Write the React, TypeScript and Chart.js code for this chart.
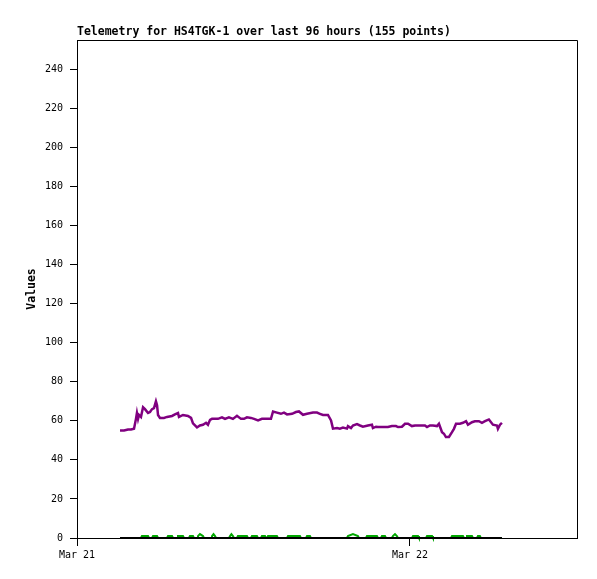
import React, { useEffect, useRef } from 'react';
import { Chart, registerables } from 'chart.js';

Chart.register(...registerables);

const TITLE = 'Telemetry for HS4TGK-1 over last 96 hours (155 points)';
const Y_TITLE = 'Values';
const X_TICK_HOURS = [0, 24];
const X_TICK_LABELS = ['Mar 21', 'Mar 22'];
const X_MAX_HOURS = 36.04;
const Y_MAX = 255;
const Y_TICKS = [0, 20, 40, 60, 80, 100, 120, 140, 160, 180, 200, 220, 240];

// hours since Mar 21 00:00
const purpleHours = [
  3.10, 3.39, 3.68, 3.89, 4.11, 4.25, 4.32, 4.40, 4.47, 4.61, 4.76, 4.90, 5.12, 5.26, 5.41, 5.55,
  5.69, 5.77, 5.84, 5.98, 6.27, 6.49, 6.85, 7.06, 7.28, 7.35, 7.64, 8.00, 8.22, 8.36, 8.65, 8.86,
  9.08, 9.30, 9.44, 9.59, 9.73, 9.95, 10.16, 10.45, 10.67, 10.95, 11.24, 11.53, 11.82, 12.04, 12.25,
  12.54, 12.76, 13.05, 13.33, 13.69, 13.98, 14.13, 14.41, 14.70, 14.92, 15.14, 15.50, 15.78, 16.00,
  16.29, 16.58, 17.01, 17.30, 17.51, 17.73, 18.09, 18.31, 18.45, 18.74, 18.95, 19.17, 19.46, 19.53,
  19.75, 19.89, 20.18, 20.40, 20.61, 20.97, 21.26, 21.33, 21.55, 21.69, 22.05, 22.41, 22.70, 22.99,
  23.14, 23.42, 23.57, 23.64, 23.86, 24.14, 24.36, 24.72, 25.08, 25.23, 25.44, 25.66, 25.95, 26.09,
  26.31, 26.45, 26.59, 26.81, 27.03, 27.17, 27.32, 27.60, 27.82, 28.04, 28.18, 28.47, 28.68, 28.97,
  29.19, 29.41, 29.69, 29.98, 30.27, 30.34, 30.49, 30.63,
];
const purpleValues = [
  55.0, 55.0, 55.5, 55.6, 56.0, 61.0, 64.0, 61.0, 63.0, 62.0, 67.0, 66.0, 64.0, 64.5, 66.0, 66.5,
  70.0, 68.0, 63.0, 61.5, 61.5, 62.0, 62.5, 63.3, 64.0, 62.0, 63.0, 62.5, 61.5, 58.7, 56.6, 57.6,
  58.0, 59.0, 58.0, 60.5, 61.0, 61.0, 61.0, 61.8, 61.0, 61.8, 61.0, 62.6, 61.0, 61.0, 61.8,
  61.5, 61.0, 60.2, 61.0, 61.0, 61.0, 64.8, 64.2, 63.6, 64.2, 63.3, 63.6, 64.5, 64.8,
  63.1, 63.6, 64.2, 64.2, 63.6, 63.0, 63.0, 60.2, 56.0, 56.3, 56.0, 56.5, 56.0, 57.3,
  56.3, 57.6, 58.3, 57.6, 57.0, 57.6, 58.0, 56.3, 57.0, 56.8, 56.8, 56.8, 57.3, 57.3,
  56.8, 57.0, 58.0, 58.5, 58.5, 57.3, 57.6, 57.6, 57.6, 56.8, 57.6, 57.6, 57.3, 58.5,
  54.2, 53.4, 51.7, 51.7, 54.2, 55.9, 58.5, 58.5, 59.0, 59.8, 58.0, 59.3, 59.8, 59.8,
  59.0, 59.8, 60.7, 58.0, 57.6, 55.9, 58.0, 59.0,
];

const greenHours = [
  3.10,
  4.61, 4.68, 5.12, 5.19,
  5.41, 5.48, 5.77, 5.84,
  6.49, 6.56, 6.85, 6.92,
  7.21, 7.28, 7.64, 7.71,
  8.07, 8.14, 8.36, 8.43,
  8.65, 8.72, 8.86, 9.08, 9.15,
  9.66, 9.73, 9.84, 9.95, 10.02,
  10.96, 11.03, 11.13, 11.24, 11.31,
  11.53, 11.60, 12.25, 12.32,
  12.54, 12.61, 12.97, 13.04,
  13.26, 13.33, 13.55, 13.62,
  13.70, 13.77, 14.41, 14.48,
  15.14, 15.21, 16.07, 16.14,
  16.51, 16.58, 16.79, 16.86,
  19.46, 19.53, 19.89, 20.25, 20.32,
  20.83, 20.90, 21.62, 21.69,
  21.91, 21.98, 22.20, 22.27,
  22.70, 22.77, 22.92, 23.06, 23.13,
  24.15, 24.22, 24.58, 24.65,
  25.16, 25.23, 25.59, 25.66,
  26.96, 27.03, 27.82, 27.89,
  28.04, 28.11, 28.47, 28.54,
  28.83, 28.90, 29.04, 29.11,
  30.63,
];
const greenValues = [
  0,
  0, 1, 1, 0,
  0, 1, 1, 0,
  0, 1, 1, 0,
  0, 1, 1, 0,
  0, 1, 1, 0,
  0, 1, 2, 1, 0,
  0, 1, 2, 1, 0,
  0, 1, 2, 1, 0,
  0, 1, 1, 0,
  0, 1, 1, 0,
  0, 1, 1, 0,
  0, 1, 1, 0,
  0, 1, 1, 0,
  0, 1, 1, 0,
  0, 1, 2, 1, 0,
  0, 1, 1, 0,
  0, 1, 1, 0,
  0, 1, 2, 1, 0,
  0, 1, 1, 0,
  0, 1, 1, 0,
  0, 1, 1, 0,
  0, 1, 1, 0,
  0, 1, 1, 0,
  0,
];

const blackHours = [3.10, 30.63];
const blackValues = [0, 0];

const toPoints = (xs: number[], ys: number[]) => xs.map((x, i) => ({ x, y: ys[i] }));

const MONO = '"DejaVu Sans Mono", "Liberation Mono", monospace';

const framePlugin = {
  id: 'frameAndTitles',
  afterDraw(chart: any) {
    const { ctx, chartArea } = chart;
    ctx.save();
    ctx.strokeStyle = '#000';
    ctx.lineWidth = 1;
    ctx.beginPath();
    ctx.moveTo(chartArea.left, Math.round(chartArea.top) + 0.5);
    ctx.lineTo(chartArea.right + 0.5, Math.round(chartArea.top) + 0.5);
    ctx.lineTo(Math.round(chartArea.right) + 0.5, chartArea.bottom);
    ctx.stroke();

    ctx.fillStyle = '#000';
    ctx.font = `bold 11.5px ${MONO}`;
    ctx.textAlign = 'left';
    ctx.textBaseline = 'alphabetic';
    ctx.fillText(TITLE, chartArea.left, chartArea.top - 5);

    ctx.translate(32, (chartArea.top + chartArea.bottom) / 2);
    ctx.rotate(-Math.PI / 2);
    ctx.textAlign = 'center';
    ctx.textBaseline = 'middle';
    ctx.fillText(Y_TITLE, 0, 0);
    ctx.restore();
  },
};

export default function App() {
  const ref = useRef<HTMLCanvasElement | null>(null);

  useEffect(() => {
    if (!ref.current) return;
    const chart = new Chart(ref.current, {
      type: 'line',
      data: {
        datasets: [
          {
            label: 'purple',
            data: toPoints(purpleHours, purpleValues),
            borderColor: '#800080',
            borderWidth: 2.5,
            pointRadius: 0,
            tension: 0,
            order: 0,
          },
          {
            label: 'black',
            data: toPoints(blackHours, blackValues),
            borderColor: '#000000',
            borderWidth: 2,
            pointRadius: 0,
            tension: 0,
            order: 1,
            clip: false,
          },
          {
            label: 'green',
            data: toPoints(greenHours, greenValues),
            borderColor: '#00a800',
            borderWidth: 2,
            pointRadius: 0,
            tension: 0,
            order: 2,
            clip: false,
          },
        ],
      },
      options: {
        animation: false,
        responsive: false,
        devicePixelRatio: 1,
        layout: { padding: { top: 40, right: 20, left: 0, bottom: 0 } },
        plugins: {
          legend: { display: false },
          tooltip: { enabled: false },
          title: { display: false },
        },
        scales: {
          x: {
            type: 'linear',
            min: 0,
            max: X_MAX_HOURS,
            afterBuildTicks: (axis: any) => {
              axis.ticks = X_TICK_HOURS.map((v) => ({ value: v }));
            },
            afterFit: (axis: any) => {
              axis.height = 41;
            },
            ticks: {
              autoSkip: false,
              maxRotation: 0,
              padding: 3,
              color: '#000',
              font: { family: MONO, size: 10 },
              callback: (v: any) => {
                const i = X_TICK_HOURS.indexOf(Number(v));
                return i >= 0 ? X_TICK_LABELS[i] : '';
              },
            },
            grid: { drawOnChartArea: false, drawTicks: true, tickLength: 8, color: '#000' },
            border: { display: true, color: '#000', width: 1 },
          },
          y: {
            type: 'linear',
            min: 0,
            max: Y_MAX,
            afterBuildTicks: (axis: any) => {
              axis.ticks = Y_TICKS.map((v) => ({ value: v }));
            },
            afterFit: (axis: any) => {
              axis.width = 77;
            },
            ticks: {
              autoSkip: false,
              padding: 7,
              color: '#000',
              font: { family: MONO, size: 10 },
            },
            grid: { drawOnChartArea: false, drawTicks: true, tickLength: 7, color: '#000' },
            border: { display: true, color: '#000', width: 1 },
          },
        },
      },
      plugins: [framePlugin],
    });
    return () => chart.destroy();
  }, []);

  return (
    <div style={{ position: 'absolute', left: 0, top: 0, width: 597, height: 579, background: '#fff' }}>
      <canvas ref={ref} width={597} height={579} style={{ width: 597, height: 579, display: 'block' }} />
    </div>
  );
}
